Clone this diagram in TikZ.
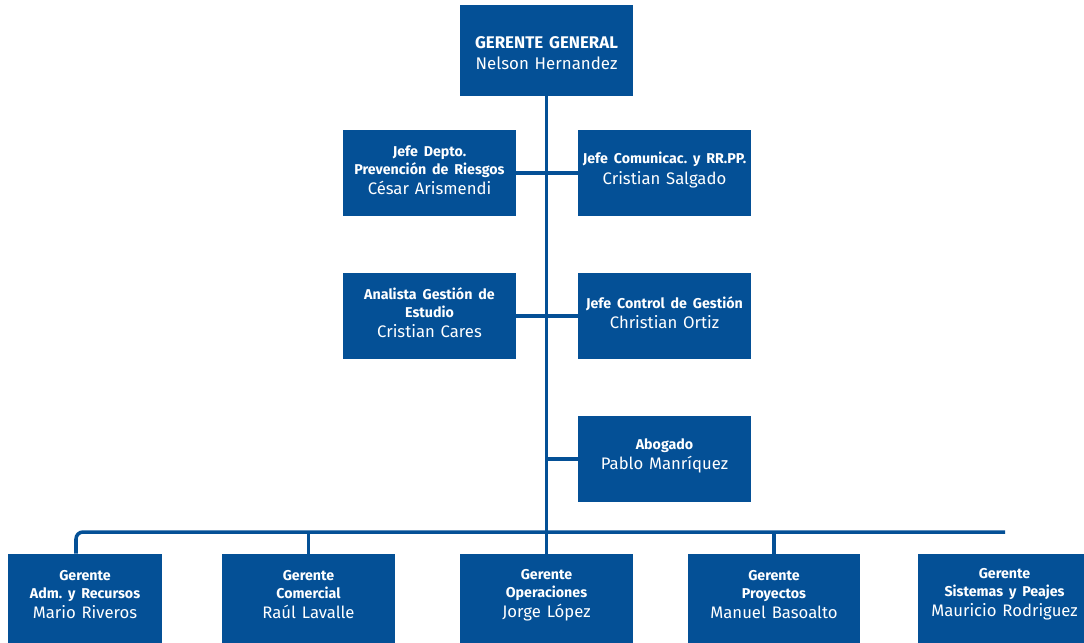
\documentclass[tikz,border=0pt]{standalone}
\usepackage{fontspec}
\setmainfont{Fira Sans}
\usetikzlibrary{positioning}
\definecolor{azul}{RGB}{4,80,150}
\frenchspacing

\newcommand{\cargo}[3][3.4pt]{{\bfseries\fontsize{8.1}{10.2}\selectfont #2\par}\vspace{1pt}{\fontsize{9.5}{10.5}\selectfont #3\par}\vspace{#1}}

\begin{document}
\begin{tikzpicture}[x=0.02cm, y=-0.02cm,
    caja/.style={fill=azul, text=white, align=center, inner sep=0pt,
        text width=3.4cm, minimum width=3.46cm, minimum height=1.72cm},
    base/.style={caja, minimum height=1.8cm},
    linea/.style={draw=azul, line width=2pt}]
    \useasboundingbox (0,0) rectangle (1084,642);
    \clip (0,0) rectangle (1084,642);

    % Top
    \node[caja, minimum height=1.82cm] (gg) at (546.5,50.5)
        {{\bfseries\fontsize{9.6}{11}\selectfont GERENTE GENERAL\par}\vspace{1.5pt}{\fontsize{9.6}{10.5}\selectfont Nelson Hernandez\par}\vspace{-3.4pt}};

    % Staff
    \node[caja] (prev) at (429.5,173) {\cargo{Jefe Depto.\\Prevención de Riesgos}{César Arismendi}};
    \node[caja] (comu) at (664.5,173) {\cargo{Jefe Comunicac. y RR.PP.}{Cristian Salgado}};
    \node[caja] (anal) at (429.5,316) {\cargo{Analista Gestión de\\Estudio}{Cristian Cares}};
    \node[caja] (ctrl) at (664.5,316) {\cargo{Jefe Control de Gestión}{Christian Ortiz}};
    \node[caja] (abog) at (664.5,459) {\cargo{Abogado}{Pablo Manríquez}};

    % Gerencias
    \node[base, text width=3cm, minimum width=3.08cm] (adm) at (85,599) {\cargo[5pt]{Gerente\\Adm. y Recursos}{Mario Riveros}};
    \node[base] (com) at (308.5,599) {\cargo[5pt]{Gerente\\Comercial}{Raúl Lavalle}};
    \node[base] (ope) at (546.5,599) {\cargo[4pt]{Gerente\\Operaciones}{Jorge López}};
    \node[base, minimum width=3.44cm] (pro) at (774,599) {\cargo[5pt]{Gerente\\Proyectos}{Manuel Basoalto}};
    \node[base] (sis) at (1004.5,599) {\cargo[5pt]{Gerente\\Sistemas y Peajes}{Mauricio Rodriguez}};

    % Lines
    \coordinate (busL) at (76,532);
    \coordinate (busR) at (1005,532);
    \draw[linea] (gg.south) -- (ope.north);
    \draw[linea] (prev.east) -- (comu.west);
    \draw[linea] (anal.east) -- (ctrl.west);
    \draw[linea] (abog.west -| gg.south) -- (abog.west);
    \draw[linea, rounded corners=4pt] (busL |- adm.north) -- (busL) -- (busR);
    \draw[linea] (com.north |- busL) -- (com.north);
    \draw[linea] (pro.north |- busL) -- (pro.north);
\end{tikzpicture}
\end{document}
